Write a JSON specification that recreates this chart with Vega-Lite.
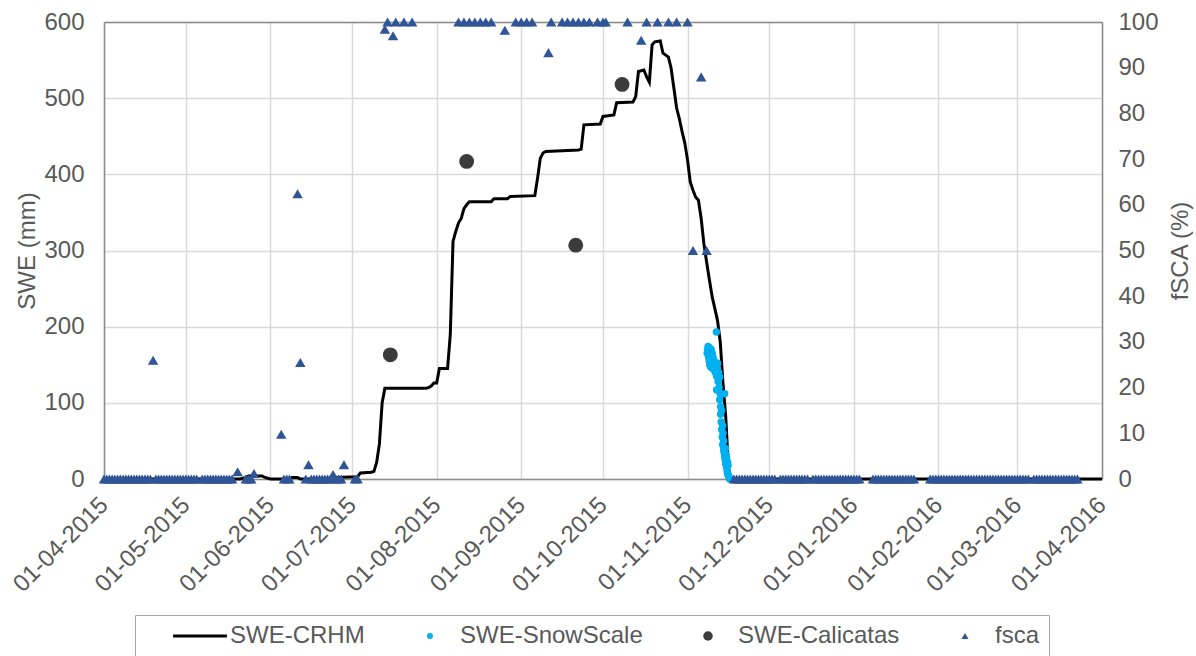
{
  "$schema": "https://vega.github.io/schema/vega-lite/v6.json",
  "width": 998,
  "height": 457,
  "autosize": {"type": "none"},
  "padding": {"left": 104, "top": 22, "right": 94, "bottom": 177},
  "background": "white",
  "config": {
    "view": {"stroke": null},
    "font": "Liberation Sans",
    "axis": {
      "labelFont": "Liberation Sans",
      "titleFont": "Liberation Sans",
      "labelFontSize": 24,
      "titleFontSize": 24,
      "labelColor": "#595959",
      "titleColor": "#595959",
      "titleFontWeight": "normal",
      "domainColor": "#8C8C8C",
      "domainWidth": 1.5,
      "gridColor": "#D9D9D9",
      "gridWidth": 1.5,
      "ticks": false
    }
  },
  "datasets": {
    "crhm": [
      {"date": "2015-04-01", "swe": 0},
      {"date": "2015-05-21", "swe": 0},
      {"date": "2015-05-23", "swe": 2},
      {"date": "2015-05-24", "swe": 4},
      {"date": "2015-05-29", "swe": 4},
      {"date": "2015-05-30", "swe": 2},
      {"date": "2015-06-01", "swe": 0},
      {"date": "2015-06-08", "swe": 0},
      {"date": "2015-06-09", "swe": 2},
      {"date": "2015-06-11", "swe": 2},
      {"date": "2015-06-12", "swe": 0},
      {"date": "2015-06-24", "swe": 0},
      {"date": "2015-06-25", "swe": 2},
      {"date": "2015-07-03", "swe": 3},
      {"date": "2015-07-04", "swe": 8},
      {"date": "2015-07-08", "swe": 9},
      {"date": "2015-07-09", "swe": 10},
      {"date": "2015-07-10", "swe": 22},
      {"date": "2015-07-11", "swe": 46},
      {"date": "2015-07-12", "swe": 100},
      {"date": "2015-07-13", "swe": 119},
      {"date": "2015-07-28", "swe": 119},
      {"date": "2015-07-29", "swe": 120},
      {"date": "2015-07-30", "swe": 122},
      {"date": "2015-07-31", "swe": 126},
      {"date": "2015-08-01", "swe": 126},
      {"date": "2015-08-02", "swe": 145},
      {"date": "2015-08-05", "swe": 145},
      {"date": "2015-08-06", "swe": 190},
      {"date": "2015-08-07", "swe": 312},
      {"date": "2015-08-08", "swe": 325},
      {"date": "2015-08-09", "swe": 336},
      {"date": "2015-08-10", "swe": 342},
      {"date": "2015-08-11", "swe": 355},
      {"date": "2015-08-12", "swe": 360},
      {"date": "2015-08-13", "swe": 364},
      {"date": "2015-08-21", "swe": 364},
      {"date": "2015-08-22", "swe": 368},
      {"date": "2015-08-27", "swe": 368},
      {"date": "2015-08-28", "swe": 371},
      {"date": "2015-09-06", "swe": 372},
      {"date": "2015-09-07", "swe": 395},
      {"date": "2015-09-08", "swe": 421},
      {"date": "2015-09-09", "swe": 428},
      {"date": "2015-09-10", "swe": 430},
      {"date": "2015-09-22", "swe": 432},
      {"date": "2015-09-23", "swe": 433},
      {"date": "2015-09-24", "swe": 465},
      {"date": "2015-09-30", "swe": 466},
      {"date": "2015-10-01", "swe": 476},
      {"date": "2015-10-05", "swe": 478},
      {"date": "2015-10-06", "swe": 494},
      {"date": "2015-10-12", "swe": 495},
      {"date": "2015-10-13", "swe": 502},
      {"date": "2015-10-14", "swe": 535},
      {"date": "2015-10-16", "swe": 537},
      {"date": "2015-10-17", "swe": 528},
      {"date": "2015-10-18", "swe": 521},
      {"date": "2015-10-19", "swe": 570},
      {"date": "2015-10-20", "swe": 574},
      {"date": "2015-10-22", "swe": 575},
      {"date": "2015-10-23", "swe": 559},
      {"date": "2015-10-25", "swe": 554},
      {"date": "2015-10-26", "swe": 539},
      {"date": "2015-10-27", "swe": 513},
      {"date": "2015-10-28", "swe": 487},
      {"date": "2015-10-29", "swe": 473},
      {"date": "2015-10-30", "swe": 456},
      {"date": "2015-10-31", "swe": 441},
      {"date": "2015-11-01", "swe": 419},
      {"date": "2015-11-02", "swe": 390},
      {"date": "2015-11-03", "swe": 379},
      {"date": "2015-11-04", "swe": 370},
      {"date": "2015-11-05", "swe": 366},
      {"date": "2015-11-06", "swe": 342},
      {"date": "2015-11-07", "swe": 309},
      {"date": "2015-11-08", "swe": 285},
      {"date": "2015-11-09", "swe": 262},
      {"date": "2015-11-10", "swe": 240},
      {"date": "2015-11-11", "swe": 224},
      {"date": "2015-11-12", "swe": 208},
      {"date": "2015-11-13", "swe": 180},
      {"date": "2015-11-14", "swe": 126},
      {"date": "2015-11-15", "swe": 82},
      {"date": "2015-11-16", "swe": 15},
      {"date": "2015-11-17", "swe": 0},
      {"date": "2016-04-01", "swe": 0}
    ],
    "snowscale": [
      {"date": "2015-11-08T05:00Z", "swe": 165},
      {"date": "2015-11-08T09:00Z", "swe": 170},
      {"date": "2015-11-08T13:00Z", "swe": 174},
      {"date": "2015-11-08T18:00Z", "swe": 168},
      {"date": "2015-11-08T18:00Z", "swe": 160},
      {"date": "2015-11-08T22:00Z", "swe": 155},
      {"date": "2015-11-09T03:00Z", "swe": 172},
      {"date": "2015-11-09T03:00Z", "swe": 150},
      {"date": "2015-11-09T07:00Z", "swe": 163},
      {"date": "2015-11-09T11:00Z", "swe": 158},
      {"date": "2015-11-09T11:00Z", "swe": 147},
      {"date": "2015-11-09T16:00Z", "swe": 170},
      {"date": "2015-11-09T20:00Z", "swe": 152},
      {"date": "2015-11-10T01:00Z", "swe": 165},
      {"date": "2015-11-10T05:00Z", "swe": 145},
      {"date": "2015-11-10T09:00Z", "swe": 160},
      {"date": "2015-11-10T14:00Z", "swe": 150},
      {"date": "2015-11-10T18:00Z", "swe": 155},
      {"date": "2015-11-10T23:00Z", "swe": 148},
      {"date": "2015-11-11T03:00Z", "swe": 140},
      {"date": "2015-11-11T07:00Z", "swe": 150},
      {"date": "2015-11-11T14:00Z", "swe": 193},
      {"date": "2015-11-11T16:00Z", "swe": 117},
      {"date": "2015-11-11T16:00Z", "swe": 135},
      {"date": "2015-11-11T21:00Z", "swe": 145},
      {"date": "2015-11-12T01:00Z", "swe": 152},
      {"date": "2015-11-12T05:00Z", "swe": 128},
      {"date": "2015-11-12T10:00Z", "swe": 140},
      {"date": "2015-11-12T14:00Z", "swe": 120},
      {"date": "2015-11-12T19:00Z", "swe": 134},
      {"date": "2015-11-12T19:00Z", "swe": 104},
      {"date": "2015-11-12T23:00Z", "swe": 112},
      {"date": "2015-11-13T03:00Z", "swe": 95},
      {"date": "2015-11-13T03:00Z", "swe": 85},
      {"date": "2015-11-13T08:00Z", "swe": 75},
      {"date": "2015-11-13T12:00Z", "swe": 65},
      {"date": "2015-11-13T12:00Z", "swe": 90},
      {"date": "2015-11-13T17:00Z", "swe": 55},
      {"date": "2015-11-13T21:00Z", "swe": 70},
      {"date": "2015-11-13T21:00Z", "swe": 45},
      {"date": "2015-11-14T01:00Z", "swe": 60},
      {"date": "2015-11-14T06:00Z", "swe": 50},
      {"date": "2015-11-14T06:00Z", "swe": 38},
      {"date": "2015-11-14T10:00Z", "swe": 35},
      {"date": "2015-11-14T15:00Z", "swe": 112},
      {"date": "2015-11-14T15:00Z", "swe": 30},
      {"date": "2015-11-14T19:00Z", "swe": 25},
      {"date": "2015-11-14T23:00Z", "swe": 40},
      {"date": "2015-11-14T23:00Z", "swe": 20},
      {"date": "2015-11-15T04:00Z", "swe": 32},
      {"date": "2015-11-15T08:00Z", "swe": 15},
      {"date": "2015-11-15T08:00Z", "swe": 28},
      {"date": "2015-11-15T13:00Z", "swe": 10},
      {"date": "2015-11-15T17:00Z", "swe": 22},
      {"date": "2015-11-15T17:00Z", "swe": 6},
      {"date": "2015-11-15T21:00Z", "swe": 18},
      {"date": "2015-11-16T02:00Z", "swe": 4},
      {"date": "2015-11-16T06:00Z", "swe": 2},
      {"date": "2015-11-16T11:00Z", "swe": 0}
    ],
    "calicatas": [
      {"date": "2015-07-15", "swe": 163},
      {"date": "2015-08-12", "swe": 417},
      {"date": "2015-09-21", "swe": 307},
      {"date": "2015-10-08", "swe": 518}
    ],
    "fsca": [
      {"date": "2015-04-01", "fsca": 0}, {"date": "2015-04-02", "fsca": 0}, {"date": "2015-04-03", "fsca": 0},
      {"date": "2015-04-04", "fsca": 0}, {"date": "2015-04-05", "fsca": 0}, {"date": "2015-04-06", "fsca": 0},
      {"date": "2015-04-07", "fsca": 0}, {"date": "2015-04-08", "fsca": 0}, {"date": "2015-04-09", "fsca": 0},
      {"date": "2015-04-10", "fsca": 0}, {"date": "2015-04-11", "fsca": 0}, {"date": "2015-04-12", "fsca": 0},
      {"date": "2015-04-13", "fsca": 0}, {"date": "2015-04-14", "fsca": 0}, {"date": "2015-04-15", "fsca": 0},
      {"date": "2015-04-16", "fsca": 0}, {"date": "2015-04-17", "fsca": 0}, {"date": "2015-04-18", "fsca": 0},
      {"date": "2015-04-19", "fsca": 26},
      {"date": "2015-04-20", "fsca": 0}, {"date": "2015-04-21", "fsca": 0}, {"date": "2015-04-22", "fsca": 0},
      {"date": "2015-04-23", "fsca": 0}, {"date": "2015-04-24", "fsca": 0}, {"date": "2015-04-25", "fsca": 0},
      {"date": "2015-04-26", "fsca": 0}, {"date": "2015-04-27", "fsca": 0}, {"date": "2015-04-28", "fsca": 0},
      {"date": "2015-04-29", "fsca": 0}, {"date": "2015-04-30", "fsca": 0},
      {"date": "2015-05-01", "fsca": 0}, {"date": "2015-05-02", "fsca": 0}, {"date": "2015-05-03", "fsca": 0},
      {"date": "2015-05-04", "fsca": 0}, {"date": "2015-05-05", "fsca": 0},
      {"date": "2015-05-07", "fsca": 0}, {"date": "2015-05-08", "fsca": 0}, {"date": "2015-05-09", "fsca": 0},
      {"date": "2015-05-10", "fsca": 0}, {"date": "2015-05-11", "fsca": 0}, {"date": "2015-05-12", "fsca": 0},
      {"date": "2015-05-13", "fsca": 0}, {"date": "2015-05-14", "fsca": 0}, {"date": "2015-05-15", "fsca": 0},
      {"date": "2015-05-16", "fsca": 0}, {"date": "2015-05-17", "fsca": 0}, {"date": "2015-05-18", "fsca": 0},
      {"date": "2015-05-20", "fsca": 1.6},
      {"date": "2015-05-23", "fsca": 0}, {"date": "2015-05-24", "fsca": 0}, {"date": "2015-05-25", "fsca": 0},
      {"date": "2015-05-26", "fsca": 1.2},
      {"date": "2015-06-05", "fsca": 9.8},
      {"date": "2015-06-06", "fsca": 0}, {"date": "2015-06-07", "fsca": 0}, {"date": "2015-06-08", "fsca": 0},
      {"date": "2015-06-11", "fsca": 62.4},
      {"date": "2015-06-12", "fsca": 25.5},
      {"date": "2015-06-14", "fsca": 0},
      {"date": "2015-06-15", "fsca": 3.1},
      {"date": "2015-06-16", "fsca": 0}, {"date": "2015-06-17", "fsca": 0}, {"date": "2015-06-18", "fsca": 0},
      {"date": "2015-06-19", "fsca": 0}, {"date": "2015-06-20", "fsca": 0}, {"date": "2015-06-21", "fsca": 0},
      {"date": "2015-06-22", "fsca": 0}, {"date": "2015-06-23", "fsca": 0},
      {"date": "2015-06-24", "fsca": 1},
      {"date": "2015-06-25", "fsca": 0}, {"date": "2015-06-26", "fsca": 0}, {"date": "2015-06-27", "fsca": 0},
      {"date": "2015-06-28", "fsca": 3.1},
      {"date": "2015-07-02", "fsca": 0}, {"date": "2015-07-03", "fsca": 0},
      {"date": "2015-07-13", "fsca": 98.4},
      {"date": "2015-07-14", "fsca": 100},
      {"date": "2015-07-16", "fsca": 97},
      {"date": "2015-07-17", "fsca": 100},
      {"date": "2015-07-20", "fsca": 100},
      {"date": "2015-07-23", "fsca": 100},
      {"date": "2015-08-09", "fsca": 100}, {"date": "2015-08-11", "fsca": 100}, {"date": "2015-08-13", "fsca": 100},
      {"date": "2015-08-15", "fsca": 100}, {"date": "2015-08-17", "fsca": 100}, {"date": "2015-08-19", "fsca": 100},
      {"date": "2015-08-21", "fsca": 100},
      {"date": "2015-08-26", "fsca": 98.2},
      {"date": "2015-08-30", "fsca": 100}, {"date": "2015-09-01", "fsca": 100}, {"date": "2015-09-03", "fsca": 100},
      {"date": "2015-09-05", "fsca": 100},
      {"date": "2015-09-11", "fsca": 93.3},
      {"date": "2015-09-12", "fsca": 100}, {"date": "2015-09-16", "fsca": 100}, {"date": "2015-09-18", "fsca": 100},
      {"date": "2015-09-20", "fsca": 100}, {"date": "2015-09-22", "fsca": 100}, {"date": "2015-09-24", "fsca": 100},
      {"date": "2015-09-26", "fsca": 100}, {"date": "2015-09-29", "fsca": 100}, {"date": "2015-10-01", "fsca": 100},
      {"date": "2015-10-02", "fsca": 100},
      {"date": "2015-10-10", "fsca": 100},
      {"date": "2015-10-15", "fsca": 96},
      {"date": "2015-10-17", "fsca": 100}, {"date": "2015-10-21", "fsca": 100}, {"date": "2015-10-25", "fsca": 100},
      {"date": "2015-10-28", "fsca": 100}, {"date": "2015-11-01", "fsca": 100},
      {"date": "2015-11-03", "fsca": 50},
      {"date": "2015-11-06", "fsca": 88},
      {"date": "2015-11-08", "fsca": 50},
      {"date": "2015-11-18", "fsca": 0}, {"date": "2015-11-19", "fsca": 0}, {"date": "2015-11-20", "fsca": 0},
      {"date": "2015-11-21", "fsca": 0}, {"date": "2015-11-22", "fsca": 0}, {"date": "2015-11-23", "fsca": 0},
      {"date": "2015-11-24", "fsca": 0}, {"date": "2015-11-25", "fsca": 0}, {"date": "2015-11-26", "fsca": 0},
      {"date": "2015-11-27", "fsca": 0}, {"date": "2015-11-28", "fsca": 0}, {"date": "2015-11-29", "fsca": 0},
      {"date": "2015-11-30", "fsca": 0},
      {"date": "2015-12-01", "fsca": 0}, {"date": "2015-12-02", "fsca": 0}, {"date": "2015-12-03", "fsca": 0},
      {"date": "2015-12-05", "fsca": 0}, {"date": "2015-12-06", "fsca": 0}, {"date": "2015-12-07", "fsca": 0},
      {"date": "2015-12-08", "fsca": 0}, {"date": "2015-12-09", "fsca": 0}, {"date": "2015-12-10", "fsca": 0},
      {"date": "2015-12-11", "fsca": 0}, {"date": "2015-12-12", "fsca": 0}, {"date": "2015-12-13", "fsca": 0},
      {"date": "2015-12-14", "fsca": 0}, {"date": "2015-12-15", "fsca": 0},
      {"date": "2015-12-17", "fsca": 0}, {"date": "2015-12-18", "fsca": 0}, {"date": "2015-12-19", "fsca": 0},
      {"date": "2015-12-20", "fsca": 0}, {"date": "2015-12-21", "fsca": 0}, {"date": "2015-12-22", "fsca": 0},
      {"date": "2015-12-23", "fsca": 0}, {"date": "2015-12-24", "fsca": 0}, {"date": "2015-12-25", "fsca": 0},
      {"date": "2015-12-26", "fsca": 0}, {"date": "2015-12-27", "fsca": 0}, {"date": "2015-12-28", "fsca": 0},
      {"date": "2015-12-29", "fsca": 0}, {"date": "2015-12-30", "fsca": 0}, {"date": "2015-12-31", "fsca": 0},
      {"date": "2016-01-01", "fsca": 0}, {"date": "2016-01-02", "fsca": 0}, {"date": "2016-01-03", "fsca": 0},
      {"date": "2016-01-08", "fsca": 0}, {"date": "2016-01-09", "fsca": 0}, {"date": "2016-01-10", "fsca": 0},
      {"date": "2016-01-11", "fsca": 0}, {"date": "2016-01-12", "fsca": 0}, {"date": "2016-01-13", "fsca": 0},
      {"date": "2016-01-14", "fsca": 0}, {"date": "2016-01-15", "fsca": 0}, {"date": "2016-01-16", "fsca": 0},
      {"date": "2016-01-17", "fsca": 0}, {"date": "2016-01-18", "fsca": 0}, {"date": "2016-01-19", "fsca": 0},
      {"date": "2016-01-20", "fsca": 0}, {"date": "2016-01-21", "fsca": 0}, {"date": "2016-01-22", "fsca": 0},
      {"date": "2016-01-23", "fsca": 0},
      {"date": "2016-01-29", "fsca": 0}, {"date": "2016-01-30", "fsca": 0}, {"date": "2016-01-31", "fsca": 0},
      {"date": "2016-02-01", "fsca": 0}, {"date": "2016-02-02", "fsca": 0}, {"date": "2016-02-03", "fsca": 0},
      {"date": "2016-02-04", "fsca": 0}, {"date": "2016-02-05", "fsca": 0}, {"date": "2016-02-06", "fsca": 0},
      {"date": "2016-02-07", "fsca": 0}, {"date": "2016-02-08", "fsca": 0}, {"date": "2016-02-09", "fsca": 0},
      {"date": "2016-02-10", "fsca": 0}, {"date": "2016-02-11", "fsca": 0}, {"date": "2016-02-12", "fsca": 0},
      {"date": "2016-02-13", "fsca": 0}, {"date": "2016-02-14", "fsca": 0}, {"date": "2016-02-15", "fsca": 0},
      {"date": "2016-02-16", "fsca": 0}, {"date": "2016-02-17", "fsca": 0}, {"date": "2016-02-18", "fsca": 0},
      {"date": "2016-02-19", "fsca": 0}, {"date": "2016-02-20", "fsca": 0}, {"date": "2016-02-21", "fsca": 0},
      {"date": "2016-02-22", "fsca": 0}, {"date": "2016-02-23", "fsca": 0}, {"date": "2016-02-24", "fsca": 0},
      {"date": "2016-02-25", "fsca": 0}, {"date": "2016-02-26", "fsca": 0}, {"date": "2016-02-27", "fsca": 0},
      {"date": "2016-02-28", "fsca": 0}, {"date": "2016-02-29", "fsca": 0},
      {"date": "2016-03-01", "fsca": 0}, {"date": "2016-03-02", "fsca": 0}, {"date": "2016-03-03", "fsca": 0},
      {"date": "2016-03-04", "fsca": 0}, {"date": "2016-03-05", "fsca": 0},
      {"date": "2016-03-07", "fsca": 0}, {"date": "2016-03-08", "fsca": 0}, {"date": "2016-03-09", "fsca": 0},
      {"date": "2016-03-10", "fsca": 0}, {"date": "2016-03-11", "fsca": 0}, {"date": "2016-03-12", "fsca": 0},
      {"date": "2016-03-13", "fsca": 0}, {"date": "2016-03-14", "fsca": 0}, {"date": "2016-03-15", "fsca": 0},
      {"date": "2016-03-16", "fsca": 0}, {"date": "2016-03-17", "fsca": 0}, {"date": "2016-03-18", "fsca": 0},
      {"date": "2016-03-19", "fsca": 0}, {"date": "2016-03-20", "fsca": 0}, {"date": "2016-03-21", "fsca": 0},
      {"date": "2016-03-22", "fsca": 0}, {"date": "2016-03-23", "fsca": 0}
    ]
  },
  "layer": [
    {
      "layer": [
        {
          "data": {"name": "crhm"},
          "mark": {"type": "line", "strokeWidth": 3, "strokeJoin": "miter"},
          "encoding": {
            "x": {
              "field": "date", "type": "temporal",
              "scale": {"type": "utc", "domain": [{"year": 2015, "month": 4, "date": 1, "utc": true}, {"year": 2016, "month": 4, "date": 1, "utc": true}], "nice": false},
              "axis": {
                "title": null, "format": "%d-%m-%Y", "tickCount": {"interval": "month", "step": 1},
                "labelAngle": -45, "labelAlign": "right", "labelBaseline": "middle", "labelPadding": 22,
                "labelOverlap": false, "labelFlush": false, "labelBound": false, "grid": true
              }
            },
            "y": {
              "field": "swe", "type": "quantitative",
              "scale": {"domain": [0, 600], "nice": false},
              "axis": {
                "title": "SWE (mm)", "values": [0, 100, 200, 300, 400, 500, 600],
                "labelPadding": 20, "titlePadding": 4, "grid": true
              }
            },
            "color": {
              "datum": "SWE-CRHM",
              "scale": {"domain": ["SWE-CRHM", "SWE-SnowScale", "SWE-Calicatas", "fsca"], "range": ["#000000", "#00B0F0", "#3B3B3B", "#2F5597"]},
              "legend": {
                "title": null, "orient": "none", "legendX": 31, "legendY": 593, "direction": "horizontal",
                "strokeColor": "#A6A6A6", "padding": 9, "symbolSize": 2900, "symbolOffset": 44,
                "labelOffset": 18, "columnPadding": 9, "labelLimit": 400,
                "labelFont": "Liberation Sans", "labelFontSize": 24, "labelColor": "#595959",
                "encode": {
                  "symbols": {
                    "update": {
                      "shape": {"signal": "datum.value === 'SWE-CRHM' ? 'stroke' : datum.value === 'fsca' ? 'triangle-up' : 'circle'"},
                      "size": {"signal": "datum.value === 'SWE-CRHM' ? 2900 : datum.value === 'SWE-Calicatas' ? 90 : datum.value === 'fsca' ? 50 : 35"},
                      "fill": {"scale": "color", "field": "value"},
                      "stroke": {"scale": "color", "field": "value"},
                      "strokeWidth": {"signal": "datum.value === 'SWE-CRHM' ? 3 : 0"},
                      "opacity": {"value": 1}
                    }
                  }
                }
              }
            }
          }
        },
        {
          "data": {"name": "snowscale"},
          "mark": {"type": "point", "shape": "circle", "filled": true, "size": 55, "opacity": 1},
          "encoding": {
            "x": {"field": "date", "type": "temporal"},
            "y": {"field": "swe", "type": "quantitative"},
            "color": {"datum": "SWE-SnowScale"}
          }
        },
        {
          "data": {"name": "calicatas"},
          "mark": {"type": "point", "shape": "circle", "filled": true, "size": 220, "opacity": 1},
          "encoding": {
            "x": {"field": "date", "type": "temporal"},
            "y": {"field": "swe", "type": "quantitative"},
            "color": {"datum": "SWE-Calicatas"}
          }
        }
      ]
    },
    {
      "data": {"name": "fsca"},
      "mark": {"type": "point", "shape": "triangle-up", "filled": true, "size": 110, "opacity": 1},
      "encoding": {
        "x": {
          "field": "date", "type": "temporal",
          "scale": {"type": "utc", "domain": [{"year": 2015, "month": 4, "date": 1, "utc": true}, {"year": 2016, "month": 4, "date": 1, "utc": true}], "nice": false},
          "axis": {"orient": "top", "title": null, "labels": false, "grid": false, "ticks": false, "domain": true}
        },
        "y": {
          "field": "fsca", "type": "quantitative",
          "scale": {"domain": [0, 100], "nice": false},
          "axis": {
            "orient": "right", "title": "fSCA (%)", "titleAngle": -90, "titleBaseline": "top",
            "values": [0, 10, 20, 30, 40, 50, 60, 70, 80, 90, 100],
            "labelPadding": 16, "titlePadding": 10, "grid": false
          }
        },
        "color": {"datum": "fsca"}
      }
    }
  ],
  "resolve": {"scale": {"y": "independent", "x": "independent"}}
}
